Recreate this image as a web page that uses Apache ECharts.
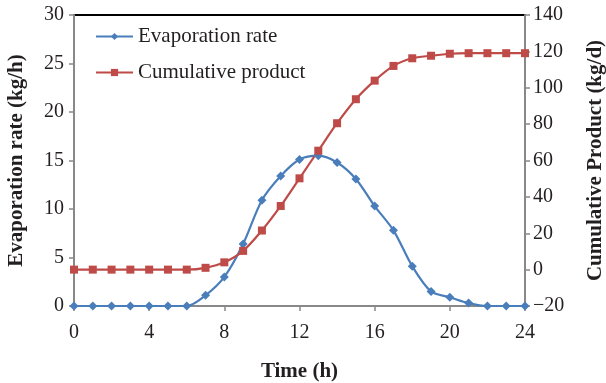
<!DOCTYPE html>
<html><head><meta charset="utf-8">
<script src="https://cdn.jsdelivr.net/npm/echarts@6/dist/echarts.min.js"></script>
<style>html,body{margin:0;padding:0;background:#fff}#c{width:606px;height:383px}</style>
</head><body><div id="c"></div>
<script>
const hours = [0,1,2,3,4,5,6,7,8,9,10,11,12,13,14,15,16,17,18,19,20,21,22,23,24];
const evaporation = [0,0,0,0,0,0,0,1.1,3.0,6.4,10.9,13.4,15.1,15.5,14.8,13.1,10.3,7.8,4.1,1.5,0.9,0.3,0,0,0];
const cumulative = [0,0,0,0,0,0,0,1,4,10.3,21.5,35,50.2,65.4,80.5,93.7,103.9,112,116.2,117.6,118.7,119,119,119,119];
const font = 'Liberation Serif';
const chart = echarts.init(document.getElementById('c'));
const axisLbl = {color:'#231f20', fontFamily:font, fontSize:20};
const titleStyle = {fontFamily:font, fontSize:21, fontWeight:'bold', color:'#231f20'};
chart.setOption({
  animation:false,
  grid:{left:74, right:81, top:15, bottom:77, containLabel:false, outerBoundsMode:'none',
        show:true, borderColor:'#000', borderWidth:2, backgroundColor:'transparent'},
  legend:{
    orient:'vertical', left:90, top:21, itemGap:15, itemWidth:37, itemHeight:9,
    textStyle:{fontFamily:font, fontSize:21, color:'#231f20'},
    data:['Evaporation rate','Cumulative product']
  },
  xAxis:{type:'value', min:0, max:24, interval:4,
    name:'Time (h)', nameLocation:'middle', nameGap:55,
    nameTextStyle:titleStyle,
    axisLine:{lineStyle:{color:'#888', width:2}},
    axisTick:{show:true, inside:false, length:5, lineStyle:{color:'#888', width:1.5}},
    axisLabel:Object.assign({margin:17}, axisLbl), splitLine:{show:false}},
  yAxis:[
    {type:'value', min:0, max:30, interval:5, position:'left',
     name:'Evaporation rate (kg/h)', nameLocation:'middle', nameGap:47,
     nameTextStyle:titleStyle,
     axisLine:{show:true, lineStyle:{color:'#888', width:2}},
     axisTick:{show:true, length:5, lineStyle:{color:'#888', width:1.5}},
     axisLabel:Object.assign({margin:10}, axisLbl), splitLine:{show:false}},
    {type:'value', min:-20, max:140, interval:20, position:'right',
     name:'Cumulative Product (kg/d)', nameLocation:'middle', nameGap:60, nameRotate:90,
     nameTextStyle:titleStyle,
     axisLine:{show:true, lineStyle:{color:'#888', width:2}},
     axisTick:{show:true, length:5, lineStyle:{color:'#888', width:1.5}},
     axisLabel:Object.assign({margin:8, formatter:v=>String(v).replace('-', '\u2212')}, axisLbl), splitLine:{show:false}}
  ],
  series:[
    {name:'Evaporation rate', type:'line', yAxisIndex:0, smooth:0.3,
     data:hours.map((h,i)=>[h,evaporation[i]]),
     symbol:'diamond', symbolSize:9, color:'#4a7ebb',
     lineStyle:{width:2.2, color:'#4a7ebb'}, itemStyle:{color:'#4a7ebb'}},
    {name:'Cumulative product', type:'line', yAxisIndex:1, smooth:0.3,
     data:hours.map((h,i)=>[h,cumulative[i]]),
     symbol:'rect', symbolSize:8, color:'#be4b48',
     lineStyle:{width:2.2, color:'#be4b48'}, itemStyle:{color:'#be4b48'}}
  ]
});
</script></body></html>
